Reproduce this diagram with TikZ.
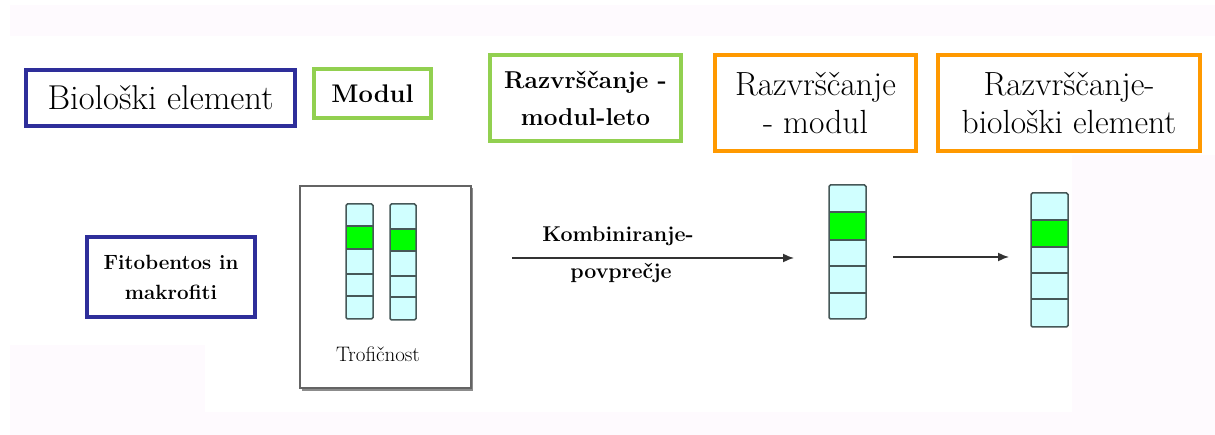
\documentclass[tikz,border=0pt]{standalone}
\usetikzlibrary{arrows.meta}

\definecolor{frameblue}{RGB}{46,46,154}
\definecolor{framegreen}{RGB}{146,208,80}
\definecolor{frameorange}{RGB}{255,153,0}
\definecolor{cellfill}{RGB}{208,255,255}
\definecolor{cellgreen}{RGB}{0,255,0}
\definecolor{cellline}{RGB}{70,88,88}
\definecolor{haze}{RGB}{254,250,254}
\definecolor{panelline}{RGB}{100,100,100}

\tikzset{
  framebox/.style={draw, line width=4.5pt, fill=white, inner sep=0pt, align=center, text=black},
  bluebox/.style={framebox, draw=frameblue},
  greenbox/.style={framebox, draw=framegreen},
  orangebox/.style={framebox, draw=frameorange},
  panel/.style={draw=panelline, line width=1.5pt, fill=white},
  celledge/.style={draw=cellline, line width=1.5pt},
  flow/.style={draw=black!80, line width=1.6pt, -{Latex[length=11pt,width=9pt]}},
  txt/.style={inner sep=0pt, text=black, align=center},
}

% one vertical column of five cells, the second one highlighted
% #1 name, #2 left x, #3 right x, #4..#9 the six horizontal edges from top to bottom
\newcommand\cellcolumn[9]{%
  \fill[cellfill] (#2,#4) rectangle (#3,#9);
  \fill[cellgreen] (#2,#5) rectangle (#3,#6);
  \draw[celledge] (#2,#5) -- (#3,#5) (#2,#6) -- (#3,#6) (#2,#7) -- (#3,#7) (#2,#8) -- (#3,#8);
  \draw[celledge, rounded corners=1.5pt] (#2,#4) rectangle (#3,#9);
  \coordinate (#1) at ({(#2+#3)/2},{(#4+#9)/2});
}

\begin{document}
\begin{tikzpicture}[x=1pt, y=-1pt]
  \useasboundingbox (0,0) rectangle (1215,435);
  \fill[white] (0,0) rectangle (1215,435);

  % faint tinted bands of the slide background
  \fill[haze] (10,5) rectangle (1215,36);
  \fill[haze] (10,345) rectangle (205,435);
  \fill[haze] (10,412) rectangle (1215,435);
  \fill[haze] (1072,155) rectangle (1215,435);

  % header boxes
  \node[bluebox, minimum width=269pt, minimum height=56pt,
        font=\fontsize{34.5}{40}\selectfont] (bio) at (160.5,98) {Biološki element};
  \node[greenbox, minimum width=117pt, minimum height=49pt,
        font=\bfseries\fontsize{25.5}{30}\selectfont] (modul) at (372.5,93.5) {Modul};
  \node[greenbox, minimum width=191pt, minimum height=86pt,
        font=\bfseries\fontsize{24.4}{37}\selectfont] (rml) at (585.5,98) {Razvrščanje -\\modul-leto};
  \node[orangebox, minimum width=201pt, minimum height=96pt,
        font=\fontsize{33.5}{38}\selectfont] (rm) at (815.5,103) {Razvrščanje\\- modul};
  \node[orangebox, minimum width=262pt, minimum height=96pt,
        font=\fontsize{33.5}{38}\selectfont] (rbe) at (1069,103) {Razvrščanje-\\biološki element};

  % biological element of the row
  \node[bluebox, minimum width=168pt, minimum height=80pt,
        font=\bfseries\fontsize{20.6}{30}\selectfont] (fito) at (171,277) {Fitobentos in\\makrofiti};

  % panel with the two module columns
  \fill[black!45] (302,188) rectangle (473,391);
  \node[panel, minimum width=171pt, minimum height=202pt, inner sep=0pt] (trof) at (385.5,287) {};
  \cellcolumn{ca}{346}{373}{204}{226}{249}{274}{296}{319}
  \cellcolumn{cb}{390}{416}{204}{229}{251}{276}{297}{320}
  \node[txt, anchor=base, font=\fontsize{21}{25}\selectfont] (troflabel) at (378,362) {Trofičnost};

  % module result and element result
  \cellcolumn{cc}{829}{866}{185}{212}{240}{266}{293}{319}
  \cellcolumn{cd}{1031}{1068}{193}{220}{247}{273}{299}{327}

  % combining arrow
  \coordinate (combstart) at (512,258);
  \coordinate (combend) at (794,258);
  \draw[flow] (combstart) -- (combend);
  \node[txt, anchor=base, font=\bfseries\fontsize{21.4}{26}\selectfont] (kombi) at (618,242) {Kombiniranje-};
  \node[txt, anchor=base, font=\bfseries\fontsize{21.4}{26}\selectfont] (povp) at (621,279) {povprečje};

  % arrow from module column to element column
  \coordinate (stepstart) at (893,257);
  \coordinate (stepend) at (1009,257);
  \draw[flow] (stepstart) -- (stepend);
\end{tikzpicture}
\end{document}
